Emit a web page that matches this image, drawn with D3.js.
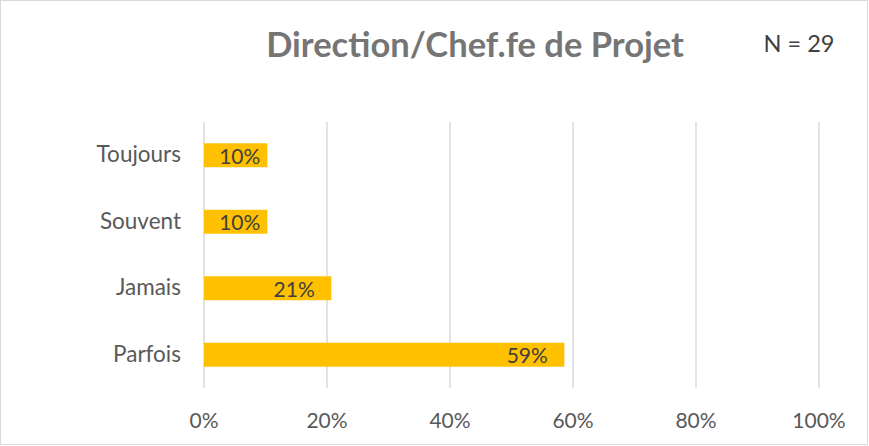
<!DOCTYPE html>
<html>
<head>
<meta charset="utf-8">
<script src="https://cdn.jsdelivr.net/npm/d3@7"></script>
<style>
  body { margin: 0; background: #fff; }
  text { font-family: Lato, "Open Sans", sans-serif; }
</style>
</head>
<body>
<div id="chart"></div>
<script>
const categories = ["Toujours", "Souvent", "Jamais", "Parfois"];
const values = [10.3, 10.3, 20.7, 58.6];
const valueLabels = ["10%", "10%", "21%", "59%"];
const ticks = [0, 20, 40, 60, 80, 100];
const title = "Direction/Chef.fe de Projet";
const note = "N = 29";

const width = 869;
const height = 446;
const margin = { top: 122, right: 50, bottom: 58, left: 204 };

const svg = d3.select("#chart")
  .append("svg")
  .attr("width", width)
  .attr("height", height);

// outer frame
svg.append("rect")
  .attr("x", 0.5)
  .attr("y", 0.5)
  .attr("width", width - 2)
  .attr("height", height - 2)
  .attr("fill", "#fff")
  .attr("stroke", "#d9d9d9");

const x = d3.scaleLinear()
  .domain([0, 100])
  .range([margin.left, width - margin.right]);

const y = d3.scaleBand()
  .domain(categories)
  .range([margin.top, height - margin.bottom])
  .paddingInner(0.64)
  .paddingOuter(0.32);

// gridlines
svg.append("g")
  .selectAll("line")
  .data(ticks)
  .join("line")
  .attr("x1", d => x(d))
  .attr("x2", d => x(d))
  .attr("y1", margin.top)
  .attr("y2", height - margin.bottom)
  .attr("stroke", "#d9d9d9")
  .attr("stroke-width", 1.5);

// x tick labels
svg.append("g")
  .selectAll("text")
  .data(ticks)
  .join("text")
  .attr("x", d => x(d))
  .attr("y", 428)
  .attr("text-anchor", "middle")
  .attr("font-size", 21)
  .attr("fill", "#595959")
  .text(d => d + "%");

// category labels
svg.append("g")
  .selectAll("text")
  .data(categories)
  .join("text")
  .attr("x", 181)
  .attr("y", d => y(d) + y.bandwidth() / 2 + 7)
  .attr("text-anchor", "end")
  .attr("font-size", 22.5)
  .attr("fill", "#595959")
  .text(d => d);

// bars
svg.append("g")
  .selectAll("rect")
  .data(values)
  .join("rect")
  .attr("x", x(0))
  .attr("y", (d, i) => y(categories[i]))
  .attr("width", d => x(d) - x(0))
  .attr("height", y.bandwidth())
  .attr("fill", "#ffc000");

// value labels
svg.append("g")
  .selectAll("text")
  .data(values)
  .join("text")
  .attr("x", d => x(d) - (x(d) - x(0) < 80 ? 7 : 16.5))
  .attr("y", (d, i) => y(categories[i]) + y.bandwidth() / 2 + 8.5)
  .attr("text-anchor", "end")
  .attr("font-size", 21)
  .attr("fill", "#404040")
  .text((d, i) => valueLabels[i]);

// title
svg.append("text")
  .attr("x", 475)
  .attr("y", 57)
  .attr("text-anchor", "middle")
  .attr("font-size", 34.5)
  .attr("font-weight", "bold")
  .attr("fill", "#757575")
  .text(title);

svg.append("text")
  .attr("x", 799)
  .attr("y", 52)
  .attr("text-anchor", "middle")
  .attr("font-size", 23.5)
  .attr("fill", "#404040")
  .text(note);
</script>
</body>
</html>
